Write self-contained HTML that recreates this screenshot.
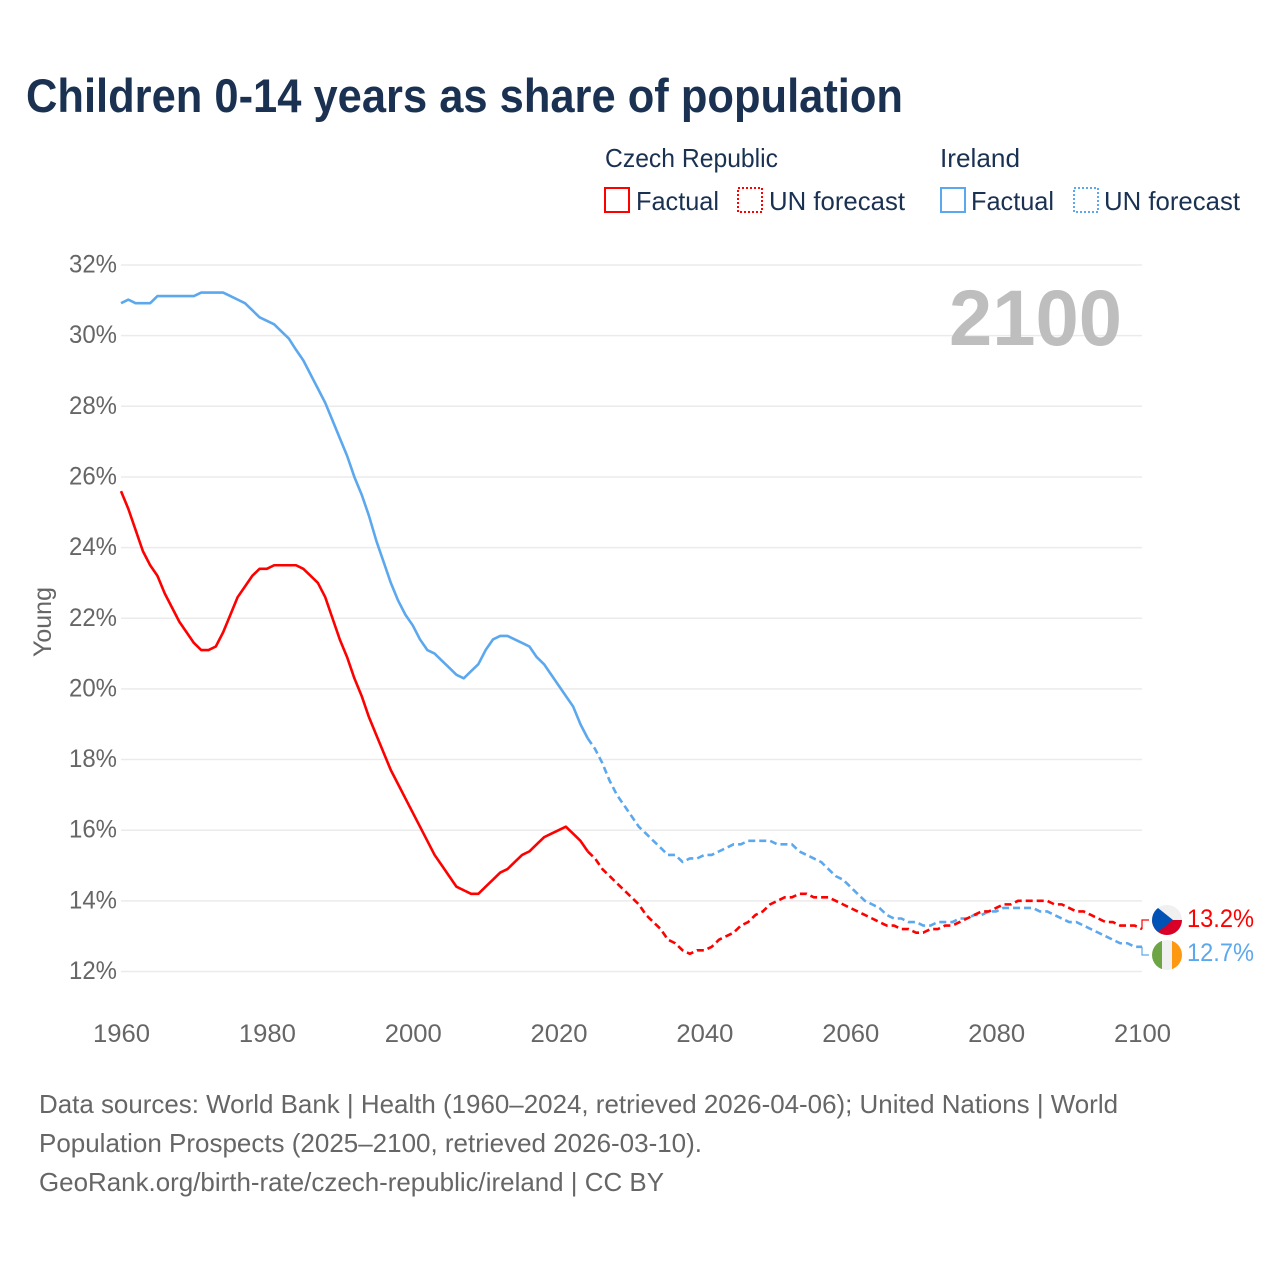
<!DOCTYPE html>
<html lang="en">
<head>
<meta charset="utf-8">
<title>Children 0-14 years as share of population</title>
<style>
html,body{margin:0;padding:0;background:#fff;}
svg{display:block;font-family:"Liberation Sans",sans-serif;}
</style>
</head>
<body>
<svg id="chart" xmlns="http://www.w3.org/2000/svg" width="1280" height="1280" viewBox="0 0 1280 1280">
  <defs>
    <clipPath id="flag-clip-cz"><circle cx="1167" cy="920" r="15"/></clipPath>
    <clipPath id="flag-clip-ie"><circle cx="1167" cy="955" r="15"/></clipPath>
  </defs>
  <rect x="0" y="0" width="1280" height="1280" fill="#fff"/>
  <text x="26" y="112" font-size="47" font-weight="700" fill="#1a3152" textLength="877" lengthAdjust="spacingAndGlyphs">Children 0-14 years as share of population</text>

  <g font-size="26" fill="#1a3152">
    <text x="605" y="167" textLength="173" lengthAdjust="spacingAndGlyphs">Czech Republic</text>
    <text x="940" y="167" textLength="80" lengthAdjust="spacingAndGlyphs">Ireland</text>
    <rect x="605" y="188" width="24" height="24" fill="none" stroke="#ff0000" stroke-width="2"/>
    <text x="636" y="210" textLength="83" lengthAdjust="spacingAndGlyphs">Factual</text>
    <rect x="738" y="188" width="24" height="24" fill="none" stroke="#ff0000" stroke-width="2" stroke-dasharray="2 2"/>
    <text x="769" y="210" textLength="136" lengthAdjust="spacingAndGlyphs">UN forecast</text>
    <rect x="941" y="188" width="24" height="24" fill="none" stroke="#5ca8ee" stroke-width="2"/>
    <text x="971" y="210" textLength="83" lengthAdjust="spacingAndGlyphs">Factual</text>
    <rect x="1074" y="188" width="24" height="24" fill="none" stroke="#5ca8ee" stroke-width="2" stroke-dasharray="2 2"/>
    <text x="1104" y="210" textLength="136" lengthAdjust="spacingAndGlyphs">UN forecast</text>
  </g>

  <g id="grid"></g>
  <g id="y-ticks"></g>
  <g id="x-ticks"></g>

  <text transform="translate(51,622) rotate(-90)" text-anchor="middle" font-size="25" fill="#666" textLength="70" lengthAdjust="spacingAndGlyphs">Young</text>
  <text x="949" y="345" font-size="79" font-weight="700" fill="#bebebe" textLength="173" lengthAdjust="spacingAndGlyphs">2100</text>

  <g id="series"></g>

  <g clip-path="url(#flag-clip-cz)">
    <rect x="1152" y="905" width="30" height="15" fill="#f0f0f0"/>
    <rect x="1152" y="920" width="30" height="15" fill="#d80027"/>
    <polygon points="1152,905 1152,935 1158,932 1173,920 1158,908" fill="#0052b4"/>
  </g>
  <g clip-path="url(#flag-clip-ie)">
    <rect x="1152" y="940" width="10" height="30" fill="#6da544"/>
    <rect x="1162" y="940" width="10" height="30" fill="#f0f0f0"/>
    <rect x="1172" y="940" width="10" height="30" fill="#ff9811"/>
  </g>
  <text id="end-label-cz" x="1187" y="927" font-size="25" fill="#ff0000" textLength="67" lengthAdjust="spacingAndGlyphs"></text>
  <text id="end-label-ie" x="1187" y="961" font-size="25" fill="#5ca8ee" textLength="67" lengthAdjust="spacingAndGlyphs"></text>

  <g font-size="26" fill="#666">
    <text x="39" y="1113" textLength="1079" lengthAdjust="spacingAndGlyphs">Data sources: World Bank | Health (1960–2024, retrieved 2026-04-06); United Nations | World</text>
    <text x="39" y="1152" textLength="663" lengthAdjust="spacingAndGlyphs">Population Prospects (2025–2100, retrieved 2026-03-10).</text>
    <text x="39" y="1191" textLength="625" lengthAdjust="spacingAndGlyphs">GeoRank.org/birth-rate/czech-republic/ireland | CC BY</text>
  </g>
</svg>
<script>
const yTickValues = [12,14,16,18,20,22,24,26,28,30,32];
const xTickValues = [1960,1980,2000,2020,2040,2060,2080,2100];
const factualStartYear = 1960;
const forecastStartYear = 2024;
const czechFactual = [25.6,25.1,24.5,23.9,23.5,23.2,22.7,22.3,21.9,21.6,21.3,21.1,21.1,21.2,21.6,22.1,22.6,22.9,23.2,23.4,23.4,23.5,23.5,23.5,23.5,23.4,23.2,23.0,22.6,22.0,21.4,20.9,20.3,19.8,19.2,18.7,18.2,17.7,17.3,16.9,16.5,16.1,15.7,15.3,15.0,14.7,14.4,14.3,14.2,14.2,14.4,14.6,14.8,14.9,15.1,15.3,15.4,15.6,15.8,15.9,16.0,16.1,15.9,15.7,15.4];
const czechForecast = [15.4,15.2,14.9,14.7,14.5,14.3,14.1,13.9,13.6,13.4,13.2,12.9,12.8,12.6,12.5,12.6,12.6,12.7,12.9,13.0,13.1,13.3,13.4,13.6,13.7,13.9,14.0,14.1,14.1,14.2,14.2,14.1,14.1,14.1,14.0,13.9,13.8,13.7,13.6,13.5,13.4,13.3,13.3,13.2,13.2,13.1,13.1,13.2,13.2,13.3,13.3,13.4,13.5,13.6,13.7,13.7,13.8,13.9,13.9,14.0,14.0,14.0,14.0,14.0,13.9,13.9,13.8,13.7,13.7,13.6,13.5,13.4,13.4,13.3,13.3,13.3,13.2];
const irelandFactual = [30.92,31.02,30.92,30.92,30.92,31.12,31.12,31.12,31.12,31.12,31.12,31.22,31.22,31.22,31.22,31.12,31.02,30.92,30.72,30.52,30.42,30.32,30.12,29.92,29.6,29.3,28.9,28.5,28.1,27.6,27.1,26.6,26.0,25.5,24.9,24.2,23.6,23.0,22.5,22.1,21.8,21.4,21.1,21.0,20.8,20.6,20.4,20.3,20.5,20.7,21.1,21.4,21.5,21.5,21.4,21.3,21.2,20.9,20.7,20.4,20.1,19.8,19.5,19.0,18.6];
const irelandForecast = [18.6,18.3,17.9,17.4,17.0,16.7,16.4,16.1,15.9,15.7,15.5,15.3,15.3,15.1,15.2,15.2,15.3,15.3,15.4,15.5,15.6,15.6,15.7,15.7,15.7,15.7,15.6,15.6,15.6,15.4,15.3,15.2,15.1,14.9,14.7,14.6,14.4,14.2,14.0,13.9,13.8,13.6,13.5,13.5,13.4,13.4,13.3,13.3,13.4,13.4,13.4,13.5,13.5,13.6,13.6,13.7,13.7,13.8,13.8,13.8,13.8,13.8,13.7,13.7,13.6,13.5,13.4,13.4,13.3,13.2,13.1,13.0,12.9,12.8,12.8,12.7,12.7];
const czechEndLabel = "13.2%";
const irelandEndLabel = "12.7%";

const NS = "http://www.w3.org/2000/svg";
const RED = "#ff0000";
const BLUE = "#5ca8ee";
function xScale(year){ return 121 + (year - 1960) * (1142 - 121) / 140; }
function yScale(v){ return 971.5 - (v - 12) * (971.5 - 265) / 20; }
function linePath(values, startYear){
  return values.map(function(v,i){
    return (i ? "L" : "M") + xScale(startYear + i).toFixed(2) + " " + yScale(v).toFixed(2);
  }).join("");
}
const grid = document.getElementById("grid");
const yTicks = document.getElementById("y-ticks");
const xTicks = document.getElementById("x-ticks");
const series = document.getElementById("series");

yTickValues.forEach(function(t){
  const line = document.createElementNS(NS,"line");
  
  
  line.setAttribute("x1", 121);
  line.setAttribute("x2", 1142);
  line.setAttribute("y1", yScale(t));
  line.setAttribute("y2", yScale(t));
  line.setAttribute("stroke", "#ebebeb");
  line.setAttribute("stroke-width", "1.5");
  grid.appendChild(line);
  const label = document.createElementNS(NS,"text");
  
  
  label.setAttribute("x", 69);
  label.setAttribute("y", yScale(t) + 7.5);
  label.setAttribute("font-size", "25");
  label.setAttribute("fill", "#666");
  label.setAttribute("textLength", "48");
  label.setAttribute("lengthAdjust", "spacingAndGlyphs");
  label.textContent = t + "%";
  yTicks.appendChild(label);
});

xTickValues.forEach(function(t){
  const label = document.createElementNS(NS,"text");
  
  
  label.setAttribute("x", xScale(t) + 0.5);
  label.setAttribute("y", 1042);
  label.setAttribute("text-anchor", "middle");
  label.setAttribute("font-size", "25");
  label.setAttribute("fill", "#666");
  label.setAttribute("textLength", "57");
  label.setAttribute("lengthAdjust", "spacingAndGlyphs");
  label.textContent = t;
  xTicks.appendChild(label);
});

function addLine(name, values, startYear, color, dashed){
  const p = document.createElementNS(NS,"path");
  
  
  p.setAttribute("d", linePath(values, startYear));
  p.setAttribute("fill", "none");
  p.setAttribute("stroke", color);
  p.setAttribute("stroke-width", "2.6");
  p.setAttribute("stroke-linejoin", "round");
  if (dashed) p.setAttribute("stroke-dasharray", "7 4");
  series.appendChild(p);
}
addLine("ireland-factual-line", irelandFactual, factualStartYear, BLUE, false);
addLine("ireland-forecast-line", irelandForecast, forecastStartYear, BLUE, true);
addLine("czech-factual-line", czechFactual, factualStartYear, RED, false);
addLine("czech-forecast-line", czechForecast, forecastStartYear, RED, true);

function addConnector(name, lastValue, labelY, color){
  const c = document.createElementNS(NS,"path");
  
  
  c.setAttribute("d", "M1142 " + yScale(lastValue).toFixed(2) + "V" + labelY + "H1149");
  c.setAttribute("fill", "none");
  c.setAttribute("stroke", color);
  c.setAttribute("stroke-width", "1.2");
  series.appendChild(c);
}
addConnector("czech-end-connector", czechForecast[czechForecast.length - 1], 920, RED);
addConnector("ireland-end-connector", irelandForecast[irelandForecast.length - 1], 955, BLUE);

document.getElementById("end-label-cz").textContent = czechEndLabel;
document.getElementById("end-label-ie").textContent = irelandEndLabel;
</script>
</body>
</html>
